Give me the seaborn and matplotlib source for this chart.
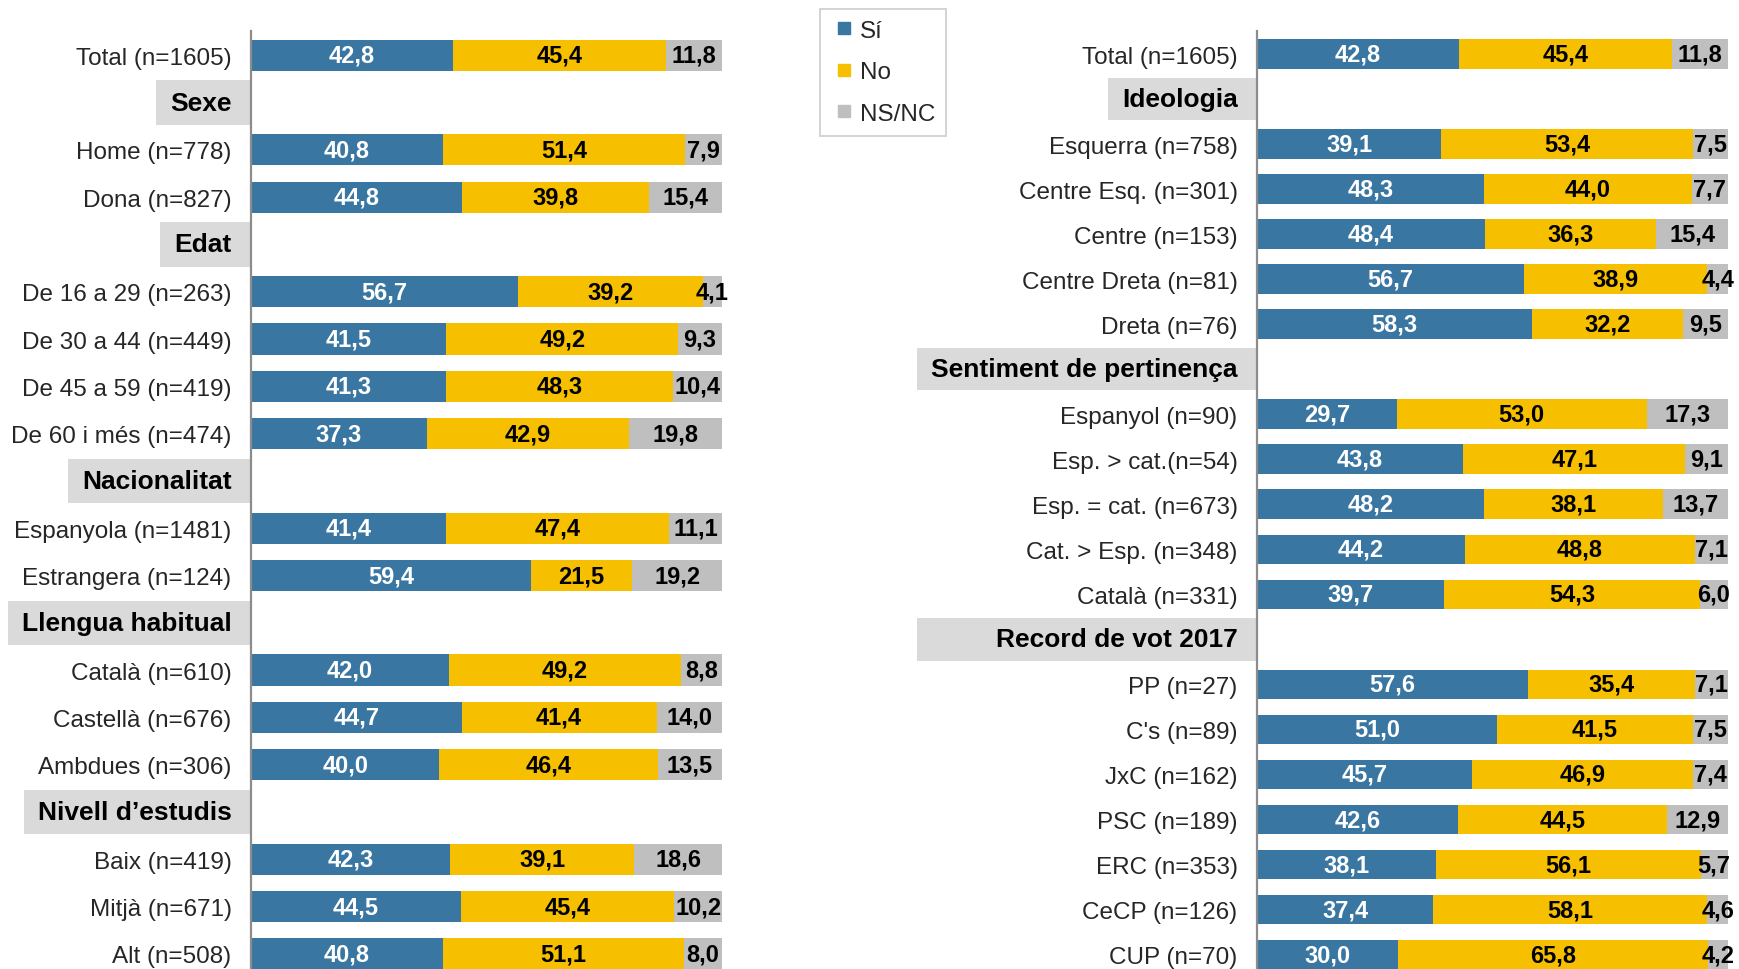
"""Stacked bars Sí / No / NS-NC by subgroup, two panels, seaborn version"""
import matplotlib

matplotlib.use("Agg")
import matplotlib.pyplot as plt
import matplotlib.transforms as mtransforms
from matplotlib.lines import Line2D
from matplotlib.patches import Rectangle
import pandas as pd
import seaborn as sns

sns.set_style("white")
plt.rcParams["font.family"] = ["Liberation Sans Narrow", "Liberation Sans", "DejaVu Sans"]

# ---- data -----------------------------------------------------------------
left_labels = [
    "Total (n=1605)", "Sexe", "Home (n=778)", "Dona (n=827)", "Edat",
    "De 16 a 29 (n=263)", "De 30 a 44 (n=449)", "De 45 a 59 (n=419)",
    "De 60 i més (n=474)", "Nacionalitat", "Espanyola (n=1481)",
    "Estrangera (n=124)", "Llengua habitual", "Català (n=610)",
    "Castellà (n=676)", "Ambdues (n=306)", "Nivell d’estudis",
    "Baix (n=419)", "Mitjà (n=671)", "Alt (n=508)",
]
left_headers = ["Sexe", "Edat", "Nacionalitat", "Llengua habitual", "Nivell d’estudis"]
left_si = [42.8, None, 40.8, 44.8, None, 56.7, 41.5, 41.3, 37.3, None, 41.4, 59.4,
           None, 42.0, 44.7, 40.0, None, 42.3, 44.5, 40.8]
left_no = [45.4, None, 51.4, 39.8, None, 39.2, 49.2, 48.3, 42.9, None, 47.4, 21.5,
           None, 49.2, 41.4, 46.4, None, 39.1, 45.4, 51.1]
left_ns = [11.8, None, 7.9, 15.4, None, 4.1, 9.3, 10.4, 19.8, None, 11.1, 19.2,
           None, 8.8, 14.0, 13.5, None, 18.6, 10.2, 8.0]

right_labels = [
    "Total (n=1605)", "Ideologia", "Esquerra (n=758)", "Centre Esq. (n=301)",
    "Centre (n=153)", "Centre Dreta (n=81)", "Dreta (n=76)",
    "Sentiment de pertinença", "Espanyol (n=90)", "Esp. > cat.(n=54)",
    "Esp. = cat. (n=673)", "Cat. > Esp. (n=348)", "Català (n=331)",
    "Record de vot 2017", "PP (n=27)", "C's (n=89)", "JxC (n=162)",
    "PSC (n=189)", "ERC (n=353)", "CeCP (n=126)", "CUP (n=70)",
]
right_headers = ["Ideologia", "Sentiment de pertinença", "Record de vot 2017"]
right_si = [42.8, None, 39.1, 48.3, 48.4, 56.7, 58.3, None, 29.7, 43.8, 48.2, 44.2,
            39.7, None, 57.6, 51.0, 45.7, 42.6, 38.1, 37.4, 30.0]
right_no = [45.4, None, 53.4, 44.0, 36.3, 38.9, 32.2, None, 53.0, 47.1, 38.1, 48.8,
            54.3, None, 35.4, 41.5, 46.9, 44.5, 56.1, 58.1, 65.8]
right_ns = [11.8, None, 7.5, 7.7, 15.4, 4.4, 9.5, None, 17.3, 9.1, 13.7, 7.1,
            6.0, None, 7.1, 7.5, 7.4, 12.9, 5.7, 4.6, 4.2]

answers = ["Sí", "No", "NS/NC"]

# ---- style ----------------------------------------------------------------
BLUE = "#3a76a2"
YELLOW = "#f6c000"
GREY = "#bfbfbf"
HEADER_GREY = "#dadada"
AXIS_GREY = "#8c8c8c"
LABEL_FS = 17.5
VAL_FS = 17
HEAD_FS = 19
BAR_H = 0.66
TICK_PAD = 14  # points
BOX_PAD_PX = 14
# header boxes that take the width of another header's box
same_box_as = {"Record de vot 2017": "Sentiment de pertinença"}


def fmt(v):
    return f"{v:.1f}".replace(".", ",")


def draw_panel(fig, ax, labels, si, no, ns, headers, ylim):
    df = pd.DataFrame({"label": labels, "si": si, "no": no, "ns": ns})
    df["cum_no"] = df["si"] + df["no"]
    df["cum_ns"] = df["cum_no"] + df["ns"]

    # stacked bars drawn back to front from cumulative sums
    for col, color in [("cum_ns", GREY), ("cum_no", YELLOW), ("si", BLUE)]:
        sns.barplot(data=df, x=col, y="label", order=labels, color=color,
                    width=BAR_H, errorbar=None, saturation=1, linewidth=0, ax=ax)

    for i, row in df.iterrows():
        if pd.isna(row["si"]):
            continue
        segs = [(0, row["si"], "white"), (row["si"], row["no"], "black"),
                (row["cum_no"], row["ns"], "black")]
        for start, val, tc in segs:
            ax.text(start + val / 2, i, fmt(val), ha="center", va="center",
                    color=tc, fontsize=VAL_FS, fontweight="bold", clip_on=False)

    ax.set_xlim(0, 100)
    ax.set_ylim(*ylim)
    ax.set_xticks([])
    ax.set_xlabel("")
    ax.set_ylabel("")
    ax.set_yticks(range(len(labels)))
    ax.set_yticklabels(["" if lab in headers else lab for lab in labels])
    ax.tick_params(axis="y", length=0, pad=TICK_PAD, labelsize=LABEL_FS)
    for side in ["top", "right", "bottom"]:
        ax.spines[side].set_visible(False)
    ax.spines["left"].set_color(AXIS_GREY)
    ax.spines["left"].set_linewidth(1.6)

    # section headers: bold text on a grey box reaching the axis
    blend = mtransforms.blended_transform_factory(ax.transAxes, ax.transData)
    head_trans = mtransforms.offset_copy(blend, fig=fig, x=-TICK_PAD, units="points")
    texts = {}
    for i, lab in enumerate(labels):
        if lab in headers:
            t = ax.text(0, i, lab, transform=head_trans, ha="right", va="center",
                        fontsize=HEAD_FS, fontweight="bold", color="black", zorder=4)
            texts[lab] = (i, t)
    return blend, texts


fig = plt.figure(figsize=(17.4, 9.7), dpi=100)
ax_l = fig.add_axes([251 / 1740, 0, 471 / 1740, 1 - 32 / 970])
ax_r = fig.add_axes([1257 / 1740, 0, 471 / 1740, 1 - 32 / 970])

panels = [
    (ax_l, draw_panel(fig, ax_l, left_labels, left_si, left_no, left_ns,
                      left_headers, (19.32, -0.513))),
    (ax_r, draw_panel(fig, ax_r, right_labels, right_si, right_no, right_ns,
                      right_headers, (20.32, -0.513))),
]

fig.canvas.draw()
for ax, (blend, texts) in panels:
    inv = ax.transAxes.inverted()
    for lab, (i, t) in texts.items():
        src = texts[same_box_as[lab]][1] if lab in same_box_as else t
        bb = src.get_window_extent()
        x_left = inv.transform((bb.x0 - BOX_PAD_PX, 0))[0]
        ax.add_patch(Rectangle((x_left, i - 0.47), -x_left, 0.94, transform=blend,
                               facecolor=HEADER_GREY, edgecolor="none",
                               clip_on=False, zorder=1.5))

handles = [Line2D([], [], marker="s", linestyle="", markersize=8, color=c, label=a)
           for c, a in zip([BLUE, YELLOW, GREY], answers)]
leg = fig.legend(handles=handles, loc="upper left", bbox_to_anchor=(820 / 1740, 1 - 10 / 970),
                 fontsize=LABEL_FS, frameon=True, fancybox=False, handlelength=1.1,
                 handletextpad=0.1, labelspacing=0.8, borderpad=0.45, borderaxespad=0)
leg.get_frame().set_edgecolor("#c8c8c8")
leg.get_frame().set_linewidth(1.4)

fig.savefig("out.png", dpi=100)
